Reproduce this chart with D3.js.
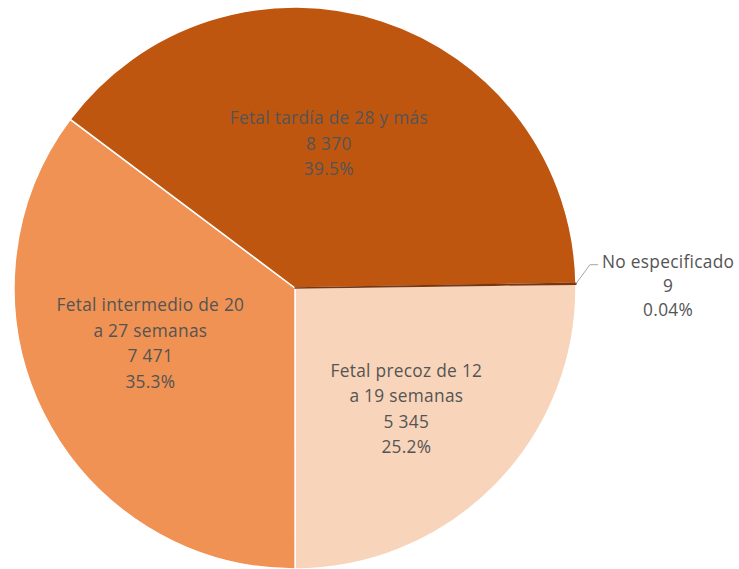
<!DOCTYPE html>
<html>
<head>
<meta charset="utf-8">
<script src="https://cdn.jsdelivr.net/npm/d3@7"></script>
<style>
  html, body { margin: 0; padding: 0; background: #fff; }
  svg text { font-family: "Open Sans", "Noto Sans", sans-serif; fill: #545454; letter-spacing: 0.3px; }
</style>
</head>
<body>
<div id="chart"></div>
<script>
// Pie chart: tipos de muerte fetal
const categories = [
  "Fetal precoz de 12 a 19 semanas",
  "Fetal intermedio de 20 a 27 semanas",
  "Fetal tardía de 28 y más",
  "No especificado"
]
const labelLines = [
  ["Fetal precoz de 12", "a 19 semanas"],
  ["Fetal intermedio de 20", "a 27 semanas"],
  ["Fetal tardía de 28 y más"],
  ["No especificado"]
]
const values = [5345, 7471, 8370, 9]
const valueLabels = ["5 345", "7 471", "8 370", "9"]
const percentLabels = ["25.2%", "35.3%", "39.5%", "0.04%"]
const colors = ["#F8D4BA", "#F09253", "#BF5610", "#7A3610"]

const width = 739
const height = 569
const cx = 295
const cy = 288
const radius = 281
const fontSize = "17.3px"

const svg = d3.select("#chart")
  .append("svg")
  .attr("width", width)
  .attr("height", height)

const g = svg.append("g")
  .attr("transform", `translate(${cx},${cy})`)

const startAngle = 89.2 * Math.PI / 180

const pie = d3.pie()
  .sort(null)
  .value(d => d)
  .startAngle(startAngle)
  .endAngle(startAngle + 2 * Math.PI)

const arcs = pie(values)

const arc = d3.arc().innerRadius(0).outerRadius(radius)

g.selectAll("path.slice")
  .data(arcs)
  .enter()
  .append("path")
  .attr("class", "slice")
  .attr("d", arc)
  .attr("fill", (d, i) => colors[i])
  .attr("stroke", (d, i) => i === 3 ? colors[i] : "#fff")
  .attr("stroke-width", (d, i) => i === 3 ? 1.6 : 1.5)
  .attr("stroke-linejoin", "round")

// Inside labels (best-fit style, with small nudges)
const labelArc = d3.arc().innerRadius(155).outerRadius(155)
const nudges = [[1, 12], [-6, -14], [-14, 3]]
const lineH = 25.5

arcs.slice(0, 3).forEach((a, i) => {
  const [x, y] = labelArc.centroid(a)
  const lines = labelLines[i].concat([valueLabels[i], percentLabels[i]])
  const top = y + nudges[i][1] - (lines.length - 1) * lineH / 2
  const t = g.append("text")
    .attr("text-anchor", "middle")
    .style("font-size", fontSize)
  lines.forEach((s, k) => {
    t.append("tspan")
      .attr("x", x + nudges[i][0])
      .attr("y", top + k * lineH)
      .attr("dy", "0.35em")
      .text(s)
  })
})

// Outside label for the tiny slice, with leader line
const tiny = arcs[3]
const mid = (tiny.startAngle + tiny.endAngle) / 2
const px = radius * Math.sin(mid)
const py = -radius * Math.cos(mid)
const elbow = [px + 14, py - 19]
const lineEnd = elbow[0] + 8
g.append("polyline")
  .attr("points", [[px, py], elbow, [lineEnd, elbow[1]]].map(p => p.join(",")).join(" "))
  .attr("fill", "none")
  .attr("stroke", "#a6a6a6")
  .attr("stroke-width", 1)

const outLines = labelLines[3].concat([valueLabels[3], percentLabels[3]])
const ot = g.append("text")
  .attr("text-anchor", "middle")
  .style("font-size", fontSize)
const spans = outLines.map((s, k) => ot.append("tspan")
  .attr("y", elbow[1] - 3 + k * 24)
  .attr("dy", "0.35em")
  .text(s))
const firstW = spans[0].node().getComputedTextLength()
spans.forEach(sp => sp.attr("x", lineEnd + 4 + firstW / 2))
</script>
</body>
</html>
